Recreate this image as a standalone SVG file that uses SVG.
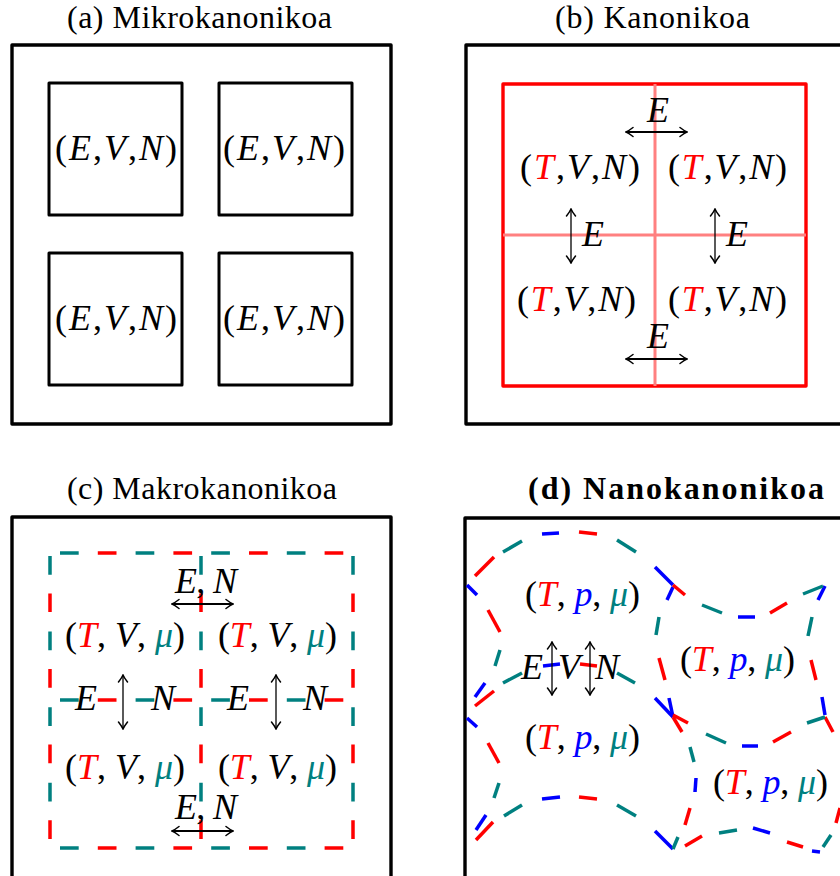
<svg xmlns="http://www.w3.org/2000/svg" width="840" height="876" viewBox="0 0 840 876">
<style>
.bg{fill:#fff}
.box{fill:none;stroke:#000;stroke-width:3.4;stroke-linejoin:round}
.cell{fill:none;stroke:#000;stroke-width:3;stroke-linejoin:round}
.redbox{fill:none;stroke:#ff0000;stroke-width:3.4;stroke-linejoin:round}
.pink{stroke:#ff8080;stroke-width:3}
.title{font-family:"Liberation Serif","DejaVu Serif",serif;font-size:32px;fill:#000}
.bold{font-weight:bold}
.m{font-family:"Liberation Serif","DejaVu Serif",serif;font-size:36px;fill:#000}
.i{font-style:italic}
.tr{fill:#ff0000;font-style:italic}
.tb{fill:#0000ff;font-style:italic}
.tt{fill:#008080;font-style:italic}
.arr{stroke:#000;fill:none;marker-start:url(#ah);marker-end:url(#ah)}
.h{stroke-width:2}
.v{stroke-width:1.3}
.dt{stroke:#008080;stroke-width:3.5;fill:none;stroke-dasharray:18.7 56.9}
.dr{stroke:#ff0000;stroke-width:3.5;fill:none;stroke-dasharray:18.7 56.9}
.sb{stroke:#0000ff;stroke-width:3.5}
.sr{stroke:#ff0000;stroke-width:3.5}
.st{stroke:#008080;stroke-width:3.5}
</style>
<defs>
<marker id="ah" viewBox="-9 -6 10 12" refX="0" refY="0" markerWidth="10" markerHeight="12" markerUnits="userSpaceOnUse" orient="auto-start-reverse">
<path d="M-7,-4.5 Q-2.5,-1 0,0 Q-2.5,1 -7,4.5" fill="none" stroke="#000" stroke-width="1.5" stroke-linecap="round"/>
</marker>
</defs>
<rect class="bg" x="0" y="0" width="840" height="876"/>

<!-- Panel (a) -->
<g id="panel-a">
<text class="title" x="67" y="28" textLength="265">(a) Mikrokanonikoa</text>
<rect class="box" x="12" y="45" width="379" height="379"/>
<g id="a-cell1"><rect class="cell" x="49" y="83" width="133" height="132"/><text class="m" x="55" y="160" textLength="122">(<tspan class="i">E</tspan>,<tspan class="i">V</tspan>,<tspan class="i">N</tspan>)</text></g>
<g id="a-cell2"><rect class="cell" x="219" y="83" width="133" height="132"/><text class="m" x="223" y="160" textLength="122">(<tspan class="i">E</tspan>,<tspan class="i">V</tspan>,<tspan class="i">N</tspan>)</text></g>
<g id="a-cell3"><rect class="cell" x="49" y="253" width="133" height="132"/><text class="m" x="55" y="330" textLength="122">(<tspan class="i">E</tspan>,<tspan class="i">V</tspan>,<tspan class="i">N</tspan>)</text></g>
<g id="a-cell4"><rect class="cell" x="219" y="253" width="133" height="132"/><text class="m" x="223" y="330" textLength="122">(<tspan class="i">E</tspan>,<tspan class="i">V</tspan>,<tspan class="i">N</tspan>)</text></g>
</g>

<!-- Panel (b) -->
<g id="panel-b">
<text class="title" x="555" y="28" textLength="195">(b) Kanonikoa</text>
<rect class="box" x="466" y="45" width="390" height="379"/>
<rect class="redbox" x="503" y="84" width="303" height="302"/>
<line class="pink" x1="655" y1="84" x2="655" y2="386"/>
<line class="pink" x1="503" y1="235" x2="806" y2="235"/>
<g id="b-cell1"><text class="m" x="520" y="179" textLength="120">(<tspan class="tr">T</tspan>,<tspan class="i">V</tspan>,<tspan class="i">N</tspan>)</text></g>
<g id="b-cell2"><text class="m" x="668" y="179" textLength="119">(<tspan class="tr">T</tspan>,<tspan class="i">V</tspan>,<tspan class="i">N</tspan>)</text></g>
<g id="b-cell3"><text class="m" x="517" y="311" textLength="119">(<tspan class="tr">T</tspan>,<tspan class="i">V</tspan>,<tspan class="i">N</tspan>)</text></g>
<g id="b-cell4"><text class="m" x="668" y="311" textLength="119">(<tspan class="tr">T</tspan>,<tspan class="i">V</tspan>,<tspan class="i">N</tspan>)</text></g>
</g>

<!-- Panel (c) -->
<g id="panel-c">
<text class="title" x="67" y="499" textLength="270">(c) Makrokanonikoa</text>
<rect class="box" x="12" y="517" width="379" height="400"/>
<g id="c-grid">
<line class="dt" x1="60" y1="553" x2="353" y2="553"/><line class="dr" x1="97.8" y1="553" x2="353" y2="553"/>
<line class="dt" x1="60" y1="700" x2="353" y2="700"/><line class="dr" x1="97.8" y1="700" x2="353" y2="700"/>
<line class="dt" x1="60" y1="848" x2="353" y2="848"/><line class="dr" x1="97.8" y1="848" x2="353" y2="848"/>
<line class="dt" x1="50" y1="556" x2="50" y2="848"/><line class="dr" x1="50" y1="593.4" x2="50" y2="848"/>
<line class="dt" x1="201" y1="556" x2="201" y2="848"/><line class="dr" x1="201" y1="593.4" x2="201" y2="848"/>
<line class="dt" x1="353" y1="556" x2="353" y2="848"/><line class="dr" x1="353" y1="593.4" x2="353" y2="848"/>
</g>
<g id="c-cell1"><text class="m" x="65" y="647" textLength="120">(<tspan class="tr">T</tspan>, <tspan class="i">V</tspan>, <tspan class="tt">μ</tspan>)</text></g>
<g id="c-cell2"><text class="m" x="218" y="647" textLength="119">(<tspan class="tr">T</tspan>, <tspan class="i">V</tspan>, <tspan class="tt">μ</tspan>)</text></g>
<g id="c-cell3"><text class="m" x="65" y="779" textLength="120">(<tspan class="tr">T</tspan>, <tspan class="i">V</tspan>, <tspan class="tt">μ</tspan>)</text></g>
<g id="c-cell4"><text class="m" x="218" y="779" textLength="119">(<tspan class="tr">T</tspan>, <tspan class="i">V</tspan>, <tspan class="tt">μ</tspan>)</text></g>
</g>

<!-- Panel (d) -->
<g id="panel-d">
<text class="title bold" x="528" y="499" textLength="296">(d) Nanokanonikoa</text>
<rect class="box" x="465" y="518" width="400" height="400"/>
<g id="d-boundaries">
<line class="sb" x1="655" y1="567" x2="673" y2="585"/>
<line class="sb" x1="467" y1="585" x2="477" y2="595"/>
<line class="sb" x1="485" y1="683" x2="475" y2="697"/>
<line class="sb" x1="542" y1="534" x2="559" y2="533"/>
<line class="sb" x1="543" y1="666" x2="560" y2="664"/>
<line class="sb" x1="655" y1="698" x2="673" y2="717"/>
<line class="sb" x1="467" y1="718" x2="477" y2="727"/>
<line class="sb" x1="486" y1="815" x2="476" y2="830"/>
<line class="sb" x1="542" y1="799" x2="560" y2="797"/>
<line class="sb" x1="655" y1="831" x2="673" y2="849"/>
<line class="sb" x1="738" y1="617" x2="755" y2="617"/>
<line class="sb" x1="825" y1="586" x2="818" y2="600"/>
<line class="sb" x1="673" y1="587" x2="667" y2="600"/>
<line class="sb" x1="669" y1="698" x2="673" y2="717"/>
<line class="sb" x1="822" y1="697" x2="825" y2="715"/>
<line class="sb" x1="742" y1="746" x2="758" y2="746"/>
<line class="sb" x1="696" y1="778" x2="695" y2="792"/>
<line class="sb" x1="753" y1="828" x2="770" y2="833"/>
<line class="sb" x1="812" y1="851" x2="820" y2="852"/>

<line class="sr" x1="475" y1="576" x2="494" y2="557"/>
<line class="sr" x1="579" y1="532" x2="597" y2="534"/>
<line class="sr" x1="488" y1="610" x2="500" y2="632"/>
<line class="sr" x1="494" y1="691" x2="475" y2="706"/>
<line class="sr" x1="580" y1="664" x2="597" y2="666"/>
<line class="sr" x1="488" y1="743" x2="499" y2="763"/>
<line class="sr" x1="493" y1="822" x2="476" y2="840"/>
<line class="sr" x1="579" y1="797" x2="597" y2="799"/>
<line class="sr" x1="673" y1="585" x2="685" y2="595"/>
<line class="sr" x1="770" y1="613" x2="787" y2="603"/>
<line class="sr" x1="659" y1="658" x2="665" y2="680"/>
<line class="sr" x1="811" y1="660" x2="816" y2="680"/>
<line class="sr" x1="673" y1="715" x2="688" y2="723"/>
<line class="sr" x1="673" y1="717" x2="682" y2="732"/>
<line class="sr" x1="773" y1="742" x2="791" y2="732"/>
<line class="sr" x1="825" y1="717" x2="833" y2="732"/>
<line class="sr" x1="690" y1="808" x2="685" y2="825"/>
<line class="sr" x1="685" y1="846" x2="702" y2="836"/>
<line class="sr" x1="787" y1="842" x2="803" y2="847"/>
<line class="sr" x1="840" y1="808" x2="836" y2="823"/>

<line class="st" x1="503" y1="552" x2="522" y2="541"/>
<line class="st" x1="617" y1="540" x2="636" y2="552"/>
<line class="st" x1="500" y1="650" x2="495" y2="666"/>
<line class="st" x1="503" y1="683" x2="522" y2="673"/>
<line class="st" x1="617" y1="673" x2="635" y2="683"/>
<line class="st" x1="499" y1="783" x2="494" y2="798"/>
<line class="st" x1="504" y1="816" x2="522" y2="805"/>
<line class="st" x1="617" y1="805" x2="636" y2="816"/>
<line class="st" x1="702" y1="605" x2="722" y2="613"/>
<line class="st" x1="803" y1="594" x2="823" y2="586"/>
<line class="st" x1="659" y1="617" x2="656" y2="635"/>
<line class="st" x1="812" y1="617" x2="808" y2="636"/>
<line class="st" x1="706" y1="734" x2="726" y2="743"/>
<line class="st" x1="807" y1="723" x2="825" y2="717"/>
<line class="st" x1="690" y1="747" x2="694" y2="762"/>
<line class="st" x1="678" y1="837" x2="673" y2="849"/>
<line class="st" x1="719" y1="833" x2="737" y2="830"/>
<line class="st" x1="823" y1="847" x2="831" y2="835"/>
</g>
<g id="d-cell1"><text class="m" x="525" y="606" textLength="115">(<tspan class="tr">T</tspan>, <tspan class="tb">p</tspan>, <tspan class="tt">μ</tspan>)</text></g>
<g id="d-cell2"><text class="m" x="525" y="749" textLength="115">(<tspan class="tr">T</tspan>, <tspan class="tb">p</tspan>, <tspan class="tt">μ</tspan>)</text></g>
<g id="d-cell3"><text class="m" x="680" y="671" textLength="115">(<tspan class="tr">T</tspan>, <tspan class="tb">p</tspan>, <tspan class="tt">μ</tspan>)</text></g>
<g id="d-cell4"><text class="m" x="713" y="794" textLength="115">(<tspan class="tr">T</tspan>, <tspan class="tb">p</tspan>, <tspan class="tt">μ</tspan>)</text></g>
</g>

<!-- Connectors (exchange arrows) -->
<g id="connectors">
<line class="arr h" x1="626" y1="132" x2="687" y2="132"/>
<line class="arr h" x1="626" y1="359" x2="687" y2="359"/>
<line class="arr v" x1="571" y1="209" x2="571" y2="263"/>
<line class="arr v" x1="715" y1="209" x2="715" y2="263"/>
<line class="arr h" x1="172" y1="604" x2="233" y2="604"/>
<line class="arr h" x1="172" y1="831" x2="233" y2="831"/>
<line class="arr v" x1="123" y1="675" x2="123" y2="729"/>
<line class="arr v" x1="276" y1="675" x2="276" y2="729"/>
<line class="arr v" x1="552" y1="642" x2="552" y2="695"/>
<line class="arr v" x1="590" y1="642" x2="590" y2="695"/>
<g id="connector-labels">
<text class="m i" x="658" y="122" text-anchor="middle">E</text>
<text class="m i" x="658" y="348" text-anchor="middle">E</text>
<text class="m i" x="593" y="246" text-anchor="middle">E</text>
<text class="m i" x="737" y="246" text-anchor="middle">E</text>
<text class="m" x="175" y="593" textLength="62"><tspan class="i">E</tspan>, <tspan class="i">N</tspan></text>
<text class="m" x="175" y="819" textLength="62"><tspan class="i">E</tspan>, <tspan class="i">N</tspan></text>
<text class="m i" x="86" y="710" text-anchor="middle">E</text>
<text class="m i" x="163" y="710" text-anchor="middle">N</text>
<text class="m i" x="238" y="710" text-anchor="middle">E</text>
<text class="m i" x="315" y="710" text-anchor="middle">N</text>
<text class="m i" x="532" y="679" text-anchor="middle">E</text>
<text class="m i" x="569" y="679" text-anchor="middle">V</text>
<text class="m i" x="607" y="679" text-anchor="middle">N</text>
</g>
</g>
</svg>
